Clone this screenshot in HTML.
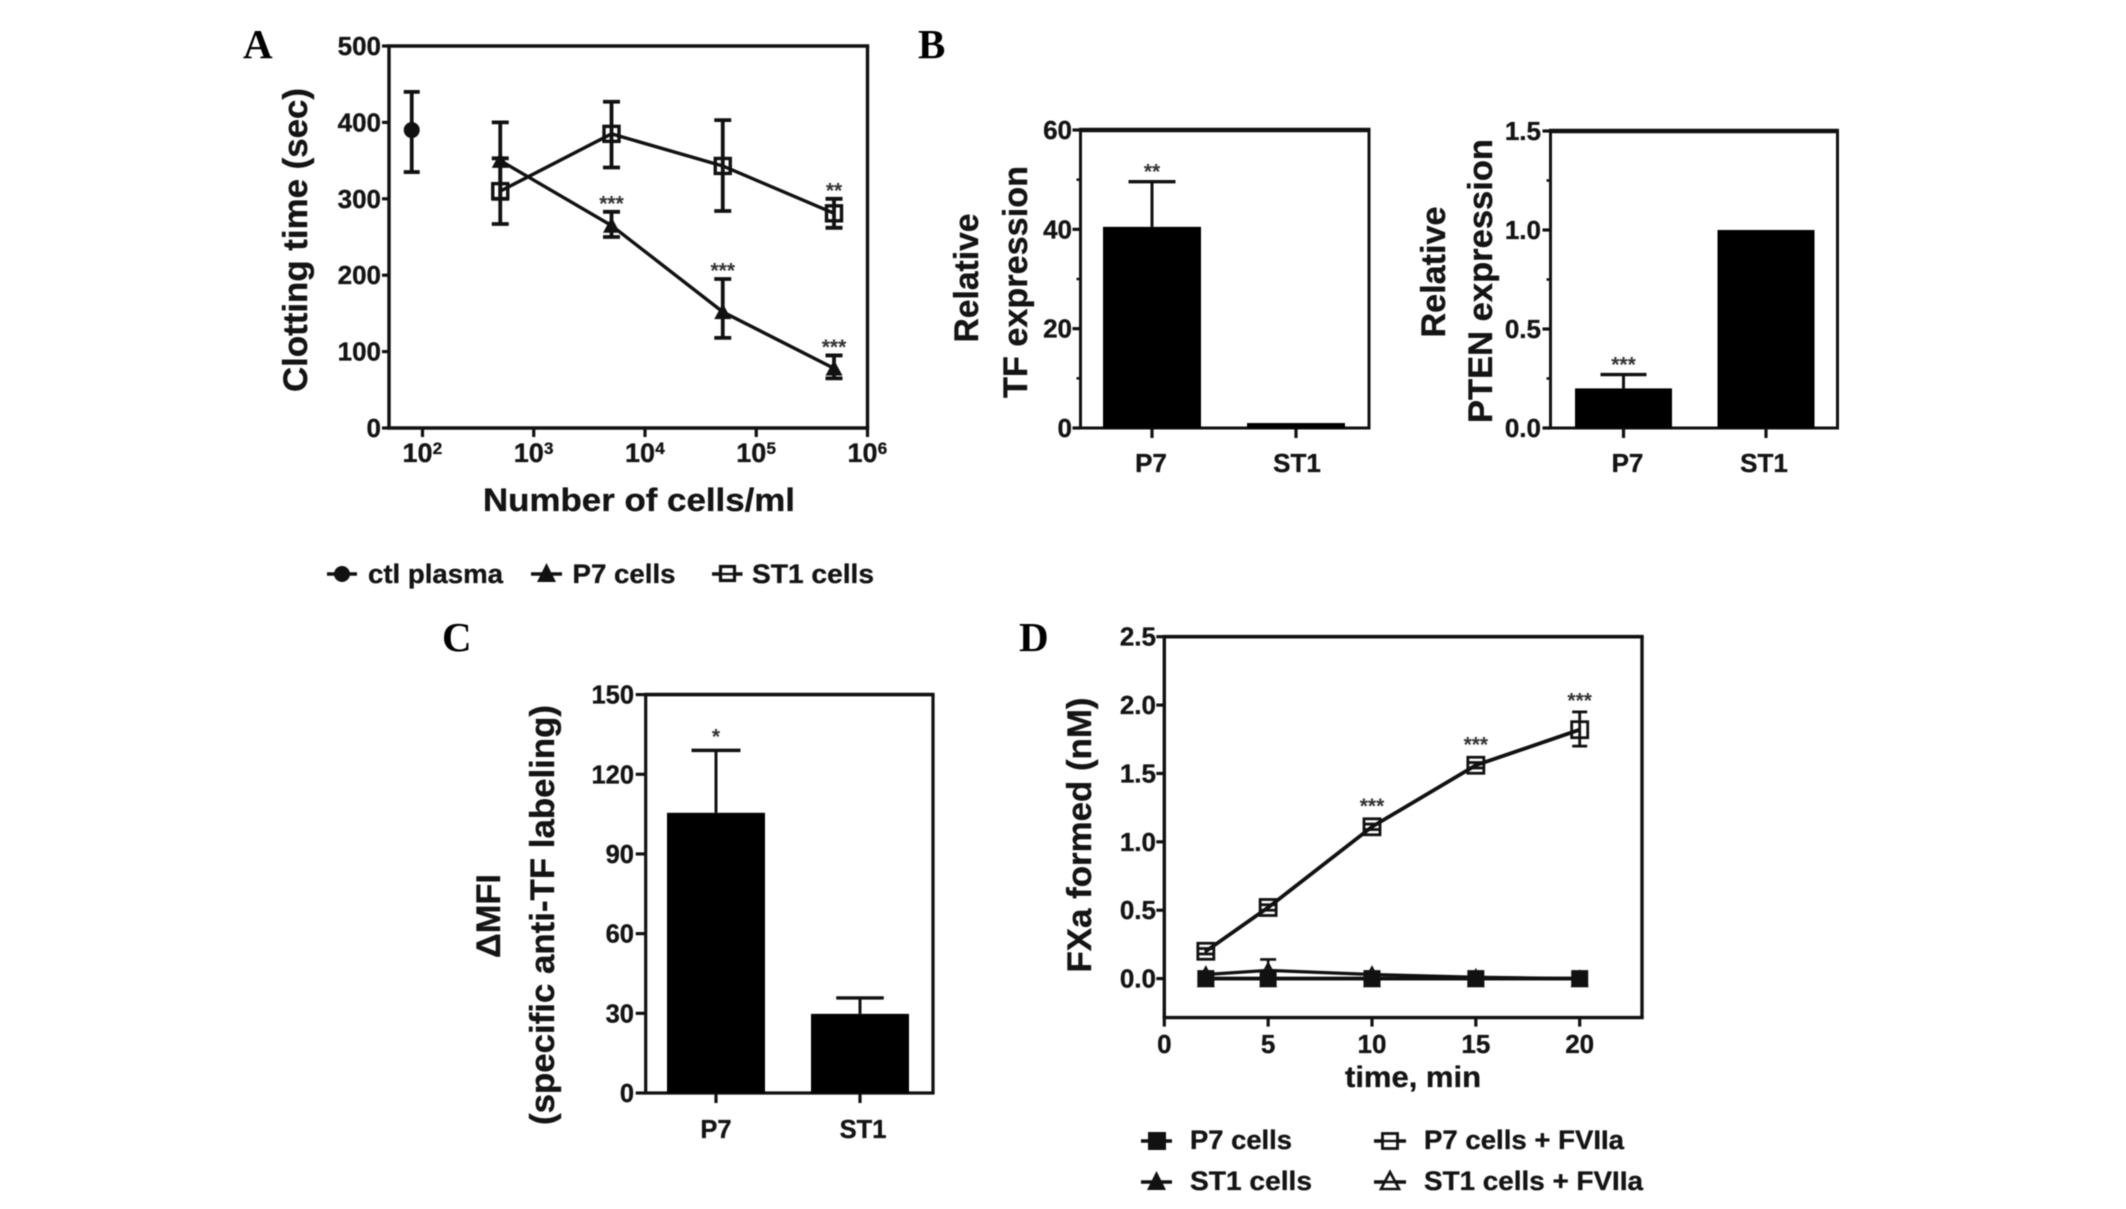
<!DOCTYPE html>
<html lang="en">
<head>
<meta charset="utf-8">
<title>Clotting, TF and PTEN expression, and FXa formation</title>
<style>
html,body{margin:0;padding:0;background:#fff;width:2126px;height:1209px;overflow:hidden}
svg{display:block;filter:blur(.6px)}
text{font-family:"Liberation Sans",Arial,sans-serif;font-weight:700;fill:#141414;stroke:#141414;stroke-width:.35px}
text.star{fill:#333;stroke:none}
.letter{font-family:"Liberation Serif","Times New Roman",serif;font-size:41px;fill:#000;stroke:none}
.title{font-size:34px}
.legend{font-size:27px}
</style>
</head>
<body>
<svg id="figure" xmlns="http://www.w3.org/2000/svg" width="2126" height="1209" viewBox="0 0 2126 1209">
  <rect width="2126" height="1209" fill="#fff"/>

  <text class="letter" x="243" y="58">A</text>
  <text class="letter" x="918" y="58">B</text>
  <text class="letter" x="442" y="651">C</text>
  <text class="letter" x="1019" y="651">D</text>

  <g id="panelA">
    <text class="title" text-anchor="middle" textLength="304" lengthAdjust="spacingAndGlyphs" transform="translate(307,240) rotate(-90)">Clotting time (sec)</text>
    <text text-anchor="middle" font-size="32" textLength="312" lengthAdjust="spacingAndGlyphs" x="639" y="511">Number of cells/ml</text>
    <g>
      <g>
        <line x1="327" x2="357" y1="574" y2="574" stroke="#111" stroke-width="3.4"/>
        <circle cx="342" cy="574" r="8" fill="#111"/>
        <text class="legend" x="368" y="583" textLength="135" lengthAdjust="spacingAndGlyphs">ctl plasma</text>
      </g>
      <g>
        <line x1="531" x2="562" y1="574" y2="574" stroke="#111" stroke-width="3.4"/>
        <polygon points="546.5,563 556,582 537,582" fill="#111"/>
        <text class="legend" x="572.5" y="583" textLength="103" lengthAdjust="spacingAndGlyphs">P7 cells</text>
      </g>
      <g>
        <line x1="712" x2="742.5" y1="574" y2="574" stroke="#111" stroke-width="3.4"/>
        <rect x="720.5" y="566.5" width="14" height="14" fill="#fff" stroke="#111" stroke-width="3.2"/>
        <line x1="720.5" x2="734.5" y1="574" y2="574" stroke="#111" stroke-width="2.4"/>
        <text class="legend" x="752" y="583" textLength="122" lengthAdjust="spacingAndGlyphs">ST1 cells</text>
      </g>
    </g>
  </g>

  <g id="panelB1">
    <text class="title" text-anchor="middle" textLength="129" lengthAdjust="spacingAndGlyphs" transform="translate(978,278) rotate(-90)">Relative</text>
    <text class="title" text-anchor="middle" textLength="232" lengthAdjust="spacingAndGlyphs" transform="translate(1027,282) rotate(-90)">TF expression</text>
  </g>

  <g id="panelB2">
    <text class="title" text-anchor="middle" textLength="131" lengthAdjust="spacingAndGlyphs" transform="translate(1445,272) rotate(-90)">Relative</text>
    <text class="title" text-anchor="middle" textLength="284" lengthAdjust="spacingAndGlyphs" transform="translate(1492,281) rotate(-90)">PTEN expression</text>
  </g>

  <g id="panelC">
    <text class="title" text-anchor="middle" textLength="84" lengthAdjust="spacingAndGlyphs" transform="translate(500,916) rotate(-90)">ΔMFI</text>
    <text class="title" text-anchor="middle" textLength="420" lengthAdjust="spacingAndGlyphs" transform="translate(554,915) rotate(-90)">(specific anti-TF labeling)</text>
  </g>

  <g id="panelD">
    <text class="title" text-anchor="middle" textLength="275" lengthAdjust="spacingAndGlyphs" transform="translate(1091,835) rotate(-90)">FXa formed (nM)</text>
    <text text-anchor="middle" font-size="30" textLength="136" lengthAdjust="spacingAndGlyphs" x="1413" y="1087">time, min</text>
    <g>
      <g>
        <line x1="1141" x2="1172" y1="1141" y2="1141" stroke="#111" stroke-width="3.4"/>
        <rect x="1148" y="1132" width="18" height="18" fill="#111"/>
        <text class="legend" x="1190" y="1149" textLength="102" lengthAdjust="spacingAndGlyphs">P7 cells</text>
      </g>
      <g>
        <line x1="1141" x2="1172" y1="1182" y2="1182" stroke="#111" stroke-width="3.4"/>
        <polygon points="1156.5,1171 1166,1190 1147,1190" fill="#111"/>
        <text class="legend" x="1190" y="1190" textLength="122" lengthAdjust="spacingAndGlyphs">ST1 cells</text>
      </g>
      <g>
        <line x1="1374" x2="1406" y1="1141" y2="1141" stroke="#111" stroke-width="3.4"/>
        <rect x="1382.5" y="1133.5" width="15" height="15" fill="#fff" stroke="#111" stroke-width="2.8"/>
        <line x1="1382.5" x2="1397.5" y1="1141" y2="1141" stroke="#111" stroke-width="2.4"/>
        <text class="legend" x="1424" y="1149" textLength="200" lengthAdjust="spacingAndGlyphs">P7 cells + FVIIa</text>
      </g>
      <g>
        <line x1="1374" x2="1406" y1="1182" y2="1182" stroke="#111" stroke-width="3.4"/>
        <polygon points="1390,1172 1399,1189 1381,1189" fill="#fff" stroke="#111" stroke-width="2.6"/>
        <line x1="1381" x2="1399" y1="1182" y2="1182" stroke="#111" stroke-width="2.4"/>
        <text class="legend" x="1424" y="1190" textLength="219" lengthAdjust="spacingAndGlyphs">ST1 cells + FVIIa</text>
      </g>
    </g>
  </g>
</svg>

<script>
// ---------- Panel A data ----------
const aYTicks = [0, 100, 200, 300, 400, 500];
const aXTickExponents = [2, 3, 4, 5, 6];
const aCtlDose = [80];
const aCtlMean = [390];
const aCtlHigh = [440];
const aCtlLow = [335];
const aDoses = [500, 5000, 50000, 500000];
const aP7Mean = [350, 265, 152, 78];
const aP7High = [353, 283, 195, 95];
const aP7Low = [300, 250, 118, 65];
const aP7Stars = ['', '***', '***', '***'];
const aST1Mean = [310, 385, 343, 281];
const aST1High = [400, 427, 403, 300];
const aST1Low = [267, 341, 284, 262];
const aST1Stars = ['', '', '', '**'];

// ---------- Panel B (TF) data ----------
const b1Categories = ['P7', 'ST1'];
const b1Values = [40.5, 1];
const b1ErrorTop = [49.6, null];
const b1Stars = ['**', ''];
const b1YTicks = [0, 20, 40, 60];
const b1YMinorTicks = [10, 30, 50];

// ---------- Panel B (PTEN) data ----------
const b2Categories = ['P7', 'ST1'];
const b2Values = [0.2, 1.0];
const b2ErrorTop = [0.27, null];
const b2Stars = ['***', ''];
const b2YTicks = ['0.0', '0.5', '1.0', '1.5'];
const b2YMinorTicks = [0.25, 0.75, 1.25];

// ---------- Panel C data ----------
const cCategories = ['P7', 'ST1'];
const cValues = [105.5, 29.8];
const cErrorTop = [129, 35.8];
const cStars = ['*', ''];
const cYTicks = [0, 30, 60, 90, 120, 150];

// ---------- Panel D data ----------
const dTimes = [2, 5, 10, 15, 20];
const dXTicks = [0, 5, 10, 15, 20];
const dYTicks = ['0.0', '0.5', '1.0', '1.5', '2.0', '2.5'];
const dP7Mean = [0, 0, 0, 0, 0];
const dST1Mean = [0, 0, 0, 0, 0];
const dP7FMean = [0.2, 0.52, 1.11, 1.56, 1.82];
const dP7FHigh = [0.22, 0.54, 1.13, 1.58, 1.95];
const dP7FLow = [0.18, 0.5, 1.09, 1.54, 1.7];
const dST1FMean = [0.03, 0.06, 0.03, 0.01, 0];
const dST1FHigh = [0.04, 0.14, 0.04, 0.01, 0];
const dStarTimes = [10, 15, 20];
const dStarLabels = ['***', '***', '***'];
const dStarLevels = [1.27, 1.72, 2.04];

// ---------- Helpers ----------
const NS = 'http://www.w3.org/2000/svg';
const INK = '#111';

function make(tag, parent, name) {
  const el = document.createElementNS(NS, tag);
  
  
  parent.appendChild(el);
  return el;
}
function seg(parent, name, x1, y1, x2, y2, w) {
  const el = make('line', parent, name);
  el.setAttribute('x1', x1);
  el.setAttribute('y1', y1);
  el.setAttribute('x2', x2);
  el.setAttribute('y2', y2);
  el.setAttribute('stroke', INK);
  el.setAttribute('stroke-width', w);
  return el;
}
function label(parent, name, str, x, y, size, anchor) {
  const el = make('text', parent, name);
  el.setAttribute('x', x);
  el.setAttribute('y', y);
  el.setAttribute('font-size', size);
  el.setAttribute('text-anchor', anchor || 'middle');
  el.textContent = str;
  return el;
}
function starLabel(parent, name, str, x, y) {
  const el = label(parent, name, str, x, y, 21);
  el.setAttribute('class', 'star');
  return el;
}
function linear(d0, d1, r0, r1) {
  return v => r0 + (Number(v) - d0) * (r1 - r0) / (d1 - d0);
}
function frame(parent, box, topW, sideW) {
  seg(parent, 'plot-border-top', box.left - sideW / 2, box.top, box.right + sideW / 2, box.top, topW);
  seg(parent, 'plot-border-right', box.right, box.top, box.right, box.bottom, sideW);
  seg(parent, 'plot-border-left', box.left, box.top, box.left, box.bottom, sideW);
  seg(parent, 'plot-border-bottom', box.left - sideW / 2, box.bottom, box.right + sideW / 2, box.bottom, sideW);
}
function marker(parent, name, kind, x, y, size, sw) {
  const h = size / 2;
  if (kind === 'circle') {
    const c = make('circle', parent, name);
    c.setAttribute('cx', x);
    c.setAttribute('cy', y);
    c.setAttribute('r', h);
    c.setAttribute('fill', INK);
    return c;
  }
  if (kind === 'square' || kind === 'squareOpen') {
    const r = make('rect', parent, name);
    r.setAttribute('x', x - h);
    r.setAttribute('y', y - h);
    r.setAttribute('width', size);
    r.setAttribute('height', size);
    if (kind === 'square') {
      r.setAttribute('fill', INK);
    } else {
      r.setAttribute('fill', 'none');
      r.setAttribute('stroke', INK);
      r.setAttribute('stroke-width', sw);
    }
    return r;
  }
  const p = make('polygon', parent, name);
  p.setAttribute('points', (x) + ',' + (y - h) + ' ' + (x + h) + ',' + (y + h * 0.85) + ' ' + (x - h) + ',' + (y + h * 0.85));
  if (kind === 'triangle') {
    p.setAttribute('fill', INK);
  } else {
    p.setAttribute('fill', 'none');
    p.setAttribute('stroke', INK);
    p.setAttribute('stroke-width', sw);
  }
  return p;
}
function polyline(parent, name, xs, ys, xScale, yScale, w) {
  const el = make('polyline', parent, name);
  el.setAttribute('points', xs.map((x, i) => xScale(x) + ',' + yScale(ys[i])).join(' '));
  el.setAttribute('fill', 'none');
  el.setAttribute('stroke', INK);
  el.setAttribute('stroke-width', w);
  return el;
}
function errorBar(parent, name, x, yHi, yLo, cap, w) {
  seg(parent, name + '-stem', x, yHi, x, yLo, w);
  seg(parent, name + '-cap-top', x - cap / 2, yHi, x + cap / 2, yHi, w);
  seg(parent, name + '-cap-bottom', x - cap / 2, yLo, x + cap / 2, yLo, w);
}

// ---------- Panel A ----------
(function () {
  const g = document.getElementById('panelA');
  const box = { left: 389, right: 867.5, top: 46, bottom: 428 };
  const y = linear(0, 500, box.bottom, box.top);
  const logX = linear(2, 6, 422.5, 867.5);
  const x = d => logX(Math.log10(d));
  frame(g, box, 3.4, 3.4);
  aYTicks.forEach(t => {
    seg(g, 'y-tick-' + t, box.left - 7, y(t), box.left, y(t), 3.2);
    label(g, 'y-tick-label-' + t, String(t), 381, y(t) + 9, 26, 'end');
  });
  aXTickExponents.forEach(e => {
    const px = logX(e);
    seg(g, 'x-tick-1e' + e, px, box.bottom, px, box.bottom + 9, 3.2);
    label(g, 'x-tick-label-1e' + e, '10', px - 5, 462, 27);
    label(g, 'x-tick-exponent-' + e, String(e), px + 15, 454, 17);
  });
  polyline(g, 'line-st1-cells', aDoses, aST1Mean, x, y, 3.4);
  polyline(g, 'line-p7-cells', aDoses, aP7Mean, x, y, 3.4);
  aCtlDose.forEach((d, i) => {
    errorBar(g, 'error-ctl-plasma', x(d), y(aCtlHigh[i]), y(aCtlLow[i]), 16, 3.8);
    marker(g, 'point-ctl-plasma', 'circle', x(d), y(aCtlMean[i]), 16);
  });
  aDoses.forEach((d, i) => {
    errorBar(g, 'error-st1-' + i, x(d), y(aST1High[i]), y(aST1Low[i]), 17, 3.8);
    errorBar(g, 'error-p7-' + i, x(d), y(aP7High[i]), y(aP7Low[i]), 17, 3.8);
    marker(g, 'point-p7-' + i, 'triangle', x(d), y(aP7Mean[i]), 17);
    marker(g, 'point-st1-' + i, 'squareOpen', x(d), y(aST1Mean[i]), 15, 3.4);
    if (aP7Stars[i]) starLabel(g, 'significance-p7-' + i, aP7Stars[i], x(d), y(aP7High[i]) - 1.5);
    if (aST1Stars[i]) starLabel(g, 'significance-st1-' + i, aST1Stars[i], x(d), y(aST1High[i]) - 1.5);
  });
})();

// ---------- Bar panels ----------
function barPanel(g, opt) {
  const box = opt.box;
  const y = linear(0, opt.yMax, box.bottom, box.top);
  frame(g, box, opt.topWidth, opt.sideWidth);
  opt.ticks.forEach(t => {
    seg(g, 'y-tick-' + t, box.left - opt.tickLen, y(t), box.left, y(t), 3.2);
    label(g, 'y-tick-label-' + t, String(t), opt.labelRight, y(t) + 9, opt.tickFont, 'end');
  });
  opt.minor.forEach(t => {
    seg(g, 'y-minor-tick-' + t, box.left - 4, y(t), box.left, y(t), 2.5);
  });
  opt.categories.forEach((c, i) => {
    const left = box.left + opt.pad + i * (opt.barWidth + opt.gap);
    const cx = left + opt.barWidth / 2;
    const bar = make('rect', g, 'bar-' + c.toLowerCase());
    bar.setAttribute('x', left);
    bar.setAttribute('y', y(opt.values[i]));
    bar.setAttribute('width', opt.barWidth);
    bar.setAttribute('height', box.bottom - y(opt.values[i]));
    bar.setAttribute('fill', '#000');
    seg(g, 'x-tick-' + c.toLowerCase(), cx, box.bottom, cx, box.bottom + 10, 3.2);
    label(g, 'x-tick-label-' + c.toLowerCase(), c, cx + opt.labelShift[i], opt.labelBaseline, opt.catFont);
    if (opt.errorTop[i] !== null) {
      const top = y(opt.errorTop[i]);
      seg(g, 'error-stem-' + c.toLowerCase(), cx, top, cx, y(opt.values[i]), 3);
      seg(g, 'error-cap-' + c.toLowerCase(), cx - opt.cap[i] / 2, top, cx + opt.cap[i] / 2, top, 3.4);
    }
    if (opt.stars[i]) {
      starLabel(g, 'significance-' + c.toLowerCase(), opt.stars[i], cx, y(opt.errorTop[i]) + opt.starShift);
    }
  });
}

barPanel(document.getElementById('panelB1'), {
  box: { left: 1080.5, right: 1369, top: 130, bottom: 428 },
  yMax: 60, topWidth: 4.6, sideWidth: 3, tickLen: 8, labelRight: 1072, tickFont: 26, catFont: 26,
  ticks: b1YTicks, minor: b1YMinorTicks, categories: b1Categories, values: b1Values, errorTop: b1ErrorTop, stars: b1Stars,
  pad: 22.5, barWidth: 98, gap: 46, cap: [47, 47], labelShift: [-1, 1], labelBaseline: 472, starShift: -3
});
barPanel(document.getElementById('panelB2'), {
  box: { left: 1550.5, right: 1837.5, top: 131, bottom: 428 },
  yMax: 1.5, topWidth: 4.6, sideWidth: 3, tickLen: 8, labelRight: 1541, tickFont: 26, catFont: 26,
  ticks: b2YTicks, minor: b2YMinorTicks, categories: b2Categories, values: b2Values, errorTop: b2ErrorTop, stars: b2Stars,
  pad: 24.5, barWidth: 97, gap: 45.5, cap: [46, 46], labelShift: [4, -2], labelBaseline: 472, starShift: -3
});
barPanel(document.getElementById('panelC'), {
  box: { left: 645.7, right: 933, top: 694.6, bottom: 1093 },
  yMax: 150, topWidth: 3.6, sideWidth: 3.2, tickLen: 10, labelRight: 634, tickFont: 25.5, catFont: 25.5,
  ticks: cYTicks, minor: [], categories: cCategories, values: cValues, errorTop: cErrorTop, stars: cStars,
  pad: 21.3, barWidth: 98, gap: 46, cap: [49, 47.5], labelShift: [0, 3], labelBaseline: 1138, starShift: -7
});

// ---------- Panel D ----------
(function () {
  const g = document.getElementById('panelD');
  const box = { left: 1164.3, right: 1642, top: 636.7, bottom: 1017.6 };
  const y = linear(0, 2.5, 978.6, box.top);
  const x = linear(0, 23, box.left, box.right);
  frame(g, box, 3.6, 3.4);
  dYTicks.forEach(t => {
    seg(g, 'y-tick-' + t, box.left - 8, y(t), box.left, y(t), 3.2);
    label(g, 'y-tick-label-' + t, t, 1156, y(t) + 9, 26, 'end');
  });
  dXTicks.forEach(t => {
    seg(g, 'x-tick-' + t, x(t), box.bottom, x(t), box.bottom + 9, 3.2);
    label(g, 'x-tick-label-' + t, String(t), x(t), 1053, 26);
  });
  polyline(g, 'line-st1-cells-fviia', dTimes, dST1FMean, x, y, 3.2);
  polyline(g, 'line-p7-cells', dTimes, dP7Mean, x, y, 3.6);
  polyline(g, 'line-st1-cells', dTimes, dST1Mean, x, y, 3.6);
  polyline(g, 'line-p7-cells-fviia', dTimes, dP7FMean, x, y, 3.8);
  dTimes.forEach((t, i) => {
    const px = x(t);
    seg(g, 'error-st1-fviia-' + t, px, y(dST1FHigh[i]), px, y(dST1FMean[i]), 2.6);
    seg(g, 'error-cap-st1-fviia-' + t, px - 8, y(dST1FHigh[i]), px + 8, y(dST1FHigh[i]), 2.6);
    marker(g, 'point-st1-fviia-' + t, 'triangleOpen', px, y(dST1FMean[i]), 14, 2.2);
    marker(g, 'point-st1-' + t, 'triangle', px, y(dST1Mean[i]) + 1, 18);
    marker(g, 'point-p7-' + t, 'square', px, y(dP7Mean[i]), 17);
    errorBar(g, 'error-p7-fviia-' + t, px, y(dP7FHigh[i]), y(dP7FLow[i]), 15, 2.8);
    marker(g, 'point-p7-fviia-' + t, 'squareOpen', px, y(dP7FMean[i]), 16, 2.8);
  });
  dStarTimes.forEach((t, i) => {
    starLabel(g, 'significance-time-' + t, dStarLabels[i], x(t), y(dStarLevels[i]) + 8);
  });
})();
</script>
</body>
</html>
